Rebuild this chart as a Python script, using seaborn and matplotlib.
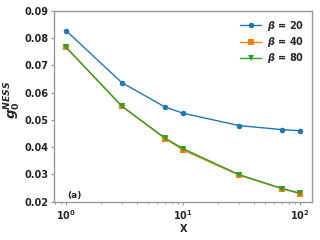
import matplotlib
matplotlib.use("Agg")
import matplotlib.pyplot as plt
import seaborn as sns
import pandas as pd

x_vals = [1, 3, 7, 10, 30, 70, 100]
g_beta20 = [0.0827, 0.0636, 0.0547, 0.0524, 0.0479, 0.0464, 0.0460]
g_beta40 = [0.0766, 0.0549, 0.0431, 0.0389, 0.0297, 0.0247, 0.0229]
g_beta80 = [0.0766, 0.0550, 0.0433, 0.0394, 0.0299, 0.0248, 0.0231]
labels = [r"$\boldsymbol{\beta}$ = 20", r"$\boldsymbol{\beta}$ = 40", r"$\boldsymbol{\beta}$ = 80"]

sns.set_style("ticks")
plt.rcParams['font.family'] = ['DejaVu Sans']
plt.rcParams['font.weight'] = 'bold'
plt.rcParams['axes.labelweight'] = 'bold'
plt.rcParams['mathtext.fontset'] = 'dejavusans'

df = pd.DataFrame({
    "X": x_vals * 3,
    "g": g_beta20 + g_beta40 + g_beta80,
    "beta": [labels[0]] * 7 + [labels[1]] * 7 + [labels[2]] * 7,
})

fig, ax = plt.subplots(figsize=(3.2, 2.4), dpi=100)
markers = ["o", "s", "v"]
colors = ["#1f77b4", "#ff7f0e", "#2ca02c"]
for lab, m, c in zip(labels, markers, colors):
    sub = df[df["beta"] == lab]
    sns.lineplot(data=sub, x="X", y="g", ax=ax, marker=m, color=c, label=lab,
                 markersize=4, linewidth=1, markeredgewidth=0)
ax.set_xscale("log")
ax.set_ylim(0.02, 0.09)
ax.set_yticks([0.02, 0.03, 0.04, 0.05, 0.06, 0.07, 0.08, 0.09])
ax.set_xlabel("X", fontsize=7, fontweight='bold', labelpad=2)
ax.set_ylabel(r"$\boldsymbol{g}_{\mathbf{0}}^{\boldsymbol{NESS}}$", fontsize=9.5, labelpad=1)
ax.yaxis.set_label_coords(-0.12, 0.535)
ax.tick_params(which="major", labelsize=7, color="#999999", length=2.5, pad=2)
ax.tick_params(which="minor", color="#999999", length=1.5)
for lbl in ax.get_xticklabels() + ax.get_yticklabels():
    lbl.set_fontweight('bold')
for s in ax.spines.values():
    s.set_visible(True)
    s.set_color("#999999")
    s.set_linewidth(1)
ax.text(0.05, 0.02, "(a)", transform=ax.transAxes, fontsize=6.5, fontweight='bold')
leg = ax.legend(frameon=False, fontsize=7, loc="upper right", handlelength=2.2,
                labelspacing=0.25, borderaxespad=0.4, handletextpad=0.6)
for t in leg.get_texts():
    t.set_fontweight('bold')
fig.subplots_adjust(left=0.17, right=0.975, top=0.955, bottom=0.16)
fig.savefig("out.png", dpi=100)
